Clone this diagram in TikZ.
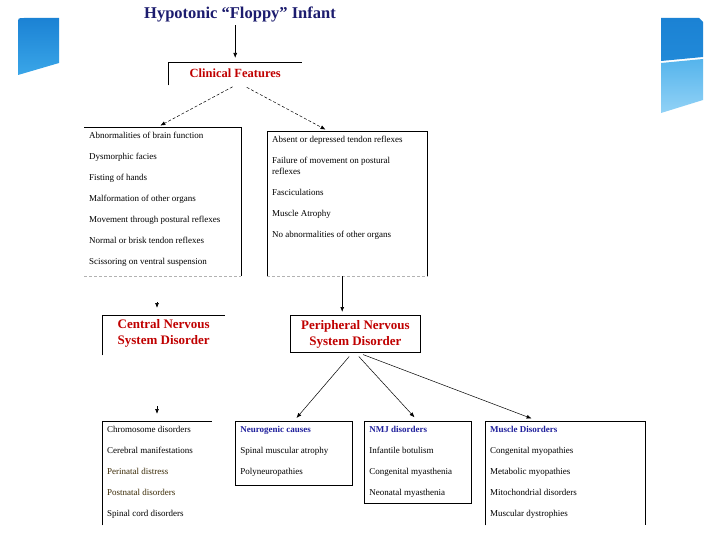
\documentclass[tikz,border=0pt]{standalone}
\usepackage{fontspec}
\setmainfont{Liberation Serif}
\usepackage{xcolor}
\usetikzlibrary{arrows.meta}

\definecolor{titlenavy}{HTML}{1C1C6E}
\definecolor{headred}{HTML}{C00000}
\definecolor{causeblue}{HTML}{1F1F9C}
\definecolor{itembrown}{HTML}{3A2A05}
\definecolor{tiletop}{HTML}{1B82D4}
\definecolor{tilebottom}{HTML}{3AA6E8}
\definecolor{tilelight}{HTML}{55B4EC}
\definecolor{tilepale}{HTML}{92D2F6}

\begin{document}
\begin{tikzpicture}[
  x=1pt, y=-1pt,
  hd/.style={anchor=north west, inner sep=0pt, align=center, text=headred,
    font=\fontsize{13}{16}\selectfont\bfseries},
  lst/.style={anchor=north west, inner sep=5pt, font=\fontsize{9}{21}\selectfont},
  frame/.style={line width=0.8pt},
  openedge/.style={gray!60, densely dashed, line width=0.6pt},
  arrow/.style={-{Latex[length=5pt,width=4pt]}, line width=0.7pt},
  thinarrow/.style={-{Latex[length=5pt,width=4pt]}, line width=0.5pt}
]
\path[use as bounding box, fill=white] (0,0) rectangle (720,540);

% corner tiles of the slide
\shade[top color=tiletop, bottom color=tilebottom]
  (18,75) -- (18,24) .. controls (18,18) .. (24,18) -- (59,18) -- (59,63) -- cycle;
\shade[top color=tiletop, bottom color=tiletop!80!tilebottom]
  (661,18) -- (699,18) -- (703,22) -- (703,57) -- (661,61) -- cycle;
\shade[top color=tilelight, bottom color=tilepale]
  (661,63) -- (703,59) -- (703,100) -- (661,113) -- cycle;

% title and clinical features
\node[text=titlenavy, font=\fontsize{16.5}{19}\selectfont\bfseries] (title) at (240,14)
  {Hypotonic “Floppy” Infant};
\node[hd, font=\fontsize{12.5}{14}\selectfont\bfseries, minimum width=134pt, minimum height=23pt]
  (clinical) at (168,62) {Clinical Features};
\draw[frame] (clinical.south west) -- (clinical.north west) -- (clinical.north east);

% feature lists
\node[lst] (central) at (84,127) {\parbox[c][139pt][t]{147pt}{%
  Abnormalities of brain function\\
  Dysmorphic facies\\
  Fisting of hands\\
  Malformation of other organs\\
  Movement through postural reflexes\\
  Normal or brisk tendon reflexes\\
  Scissoring on ventral suspension}};
\draw[frame] (central.north west) -- (central.north east) -- (central.south east);
\draw[openedge] (central.south west) -- (central.south east);

\node[lst] (peripheral) at (267,131) {\parbox[c][135pt][t]{150pt}{%
  Absent or depressed tendon reflexes\\
  Failure of movement on postural\\[-10pt]
  reflexes\\
  Fasciculations\\
  Muscle Atrophy\\
  No abnormalities of other organs}};
\draw[frame] (peripheral.south west) -- (peripheral.north west) -- (peripheral.north east)
  -- (peripheral.south east);
\draw[openedge] (peripheral.south west) -- (peripheral.south east);

% disorder headings
\node[hd, minimum width=123pt, minimum height=36pt] (cns) at (102,315)
  {Central Nervous\\System Disorder};
\draw[frame] ([yshift=-4pt]cns.south west) -- (cns.north west) -- (cns.north east);
\node[hd, draw, frame, minimum width=130pt, minimum height=37pt] (pns) at (290,315)
  {Peripheral Nervous\\System Disorder};

% causes
\node[lst] (chromo) at (102,421) {\parbox[c][94pt][t]{100pt}{%
  Chromosome disorders\\
  Cerebral manifestations\\
  {\color{itembrown}Perinatal distress}\\
  {\color{itembrown}Postnatal disorders}\\
  Spinal cord disorders}};
\draw[frame] (chromo.south west) -- (chromo.north west) -- (chromo.north east);

\node[lst, draw, frame] (neuro) at (235,421) {\parbox[c][54pt][t]{107pt}{%
  {\color{causeblue}\bfseries Neurogenic causes}\\
  Spinal muscular atrophy\\
  Polyneuropathies}};

\node[lst, draw, frame] (nmj) at (364,421) {\parbox[c][72pt][t]{97pt}{%
  {\color{causeblue}\bfseries NMJ disorders}\\
  Infantile botulism\\
  Congenital myasthenia\\
  Neonatal myasthenia}};

\node[lst] (muscle) at (485,421) {\parbox[c][94pt][t]{150pt}{%
  {\color{causeblue}\bfseries Muscle Disorders}\\
  Congenital myopathies\\
  Metabolic myopathies\\
  Mitochondrial disorders\\
  Muscular dystrophies}};
\draw[frame] (muscle.south west) -- (muscle.north west) -- (muscle.north east)
  -- (muscle.south east);

% connectors
\coordinate (cnsin) at (157,276);
\coordinate (chromoin) at (157,355);
\draw[arrow, shorten >=4pt] (title.south -| clinical.north) -- (clinical.north);
\draw[thinarrow, densely dashed, shorten <=3pt, shorten >=3pt] (clinical.south)
  -- ([xshift=-5pt]central.north);
\draw[thinarrow, densely dashed, shorten <=4pt, shorten >=3pt] ([xshift=8pt]clinical.south)
  -- ([xshift=-19pt]peripheral.north);
\draw[arrow, shorten <=26pt, shorten >=7pt] (cnsin) -- (cnsin |- cns.north);
\draw[arrow, shorten <=51pt, shorten >=7pt] (chromoin) -- (chromoin |- chromo.north);
\draw[arrow, shorten >=3pt] ([xshift=-5pt]peripheral.south) -- ([xshift=-5pt]peripheral.south |- pns.north);
\draw[thinarrow, shorten <=5pt, shorten >=4pt] ([xshift=-3pt]pns.south) -- (neuro.north);
\draw[thinarrow, shorten <=5pt, shorten >=5pt] (pns.south) -- (nmj.north);
\draw[thinarrow, shorten <=5pt, shorten >=7pt] ([xshift=3pt]pns.south) -- ([xshift=-27pt]muscle.north);
\end{tikzpicture}
\end{document}
